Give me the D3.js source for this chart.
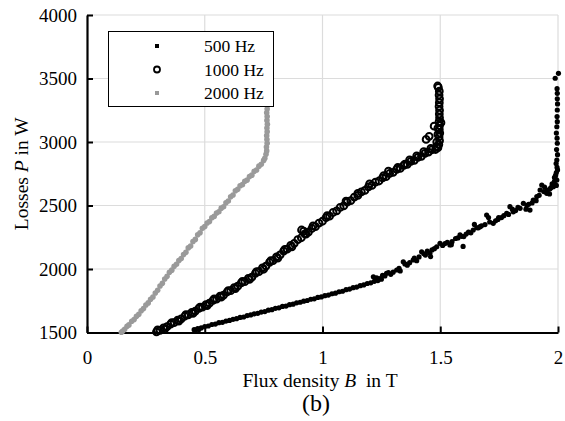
<!DOCTYPE html>
<html>
<head>
<meta charset="utf-8">
<script src="https://cdn.jsdelivr.net/npm/d3@7"></script>
<style>
  body { margin: 0; background: #fff; }
  text { font-family: "Liberation Serif", "Times New Roman", serif; fill: #000; }
</style>
</head>
<body>
<svg id="chart" width="565" height="421"></svg>
<script>
// values: [B in T, P in W]
const seriesNames = ["500 Hz", "1000 Hz", "2000 Hz"]
const xTicks = [0, 0.5, 1, 1.5, 2]
const yTicks = [1500, 2000, 2500, 3000, 3500, 4000]

const pts500 = [
  [0.455,1522],[0.46,1519],[0.47,1530],[0.475,1524],[0.485,1536],[0.5,1547],[0.515,1551],[0.53,1563],
  [0.545,1566],[0.56,1577],[0.575,1580],[0.59,1590],[0.605,1595],[0.62,1604],[0.635,1609],[0.65,1619],
  [0.665,1622],[0.68,1633],[0.695,1638],[0.71,1647],[0.725,1651],[0.74,1661],[0.755,1665],[0.77,1676],
  [0.785,1680],[0.8,1690],[0.815,1694],[0.83,1705],[0.845,1708],[0.86,1719],[0.875,1723],[0.89,1734],
  [0.905,1738],[0.92,1747],[0.935,1752],[0.95,1762],[0.965,1765],[0.98,1776],[0.995,1780],[1.01,1790],
  [1.025,1795],[1.04,1805],[1.055,1810],[1.07,1821],[1.085,1825],[1.1,1837],[1.115,1842],[1.13,1853],
  [1.145,1858],[1.16,1869],[1.175,1875],[1.19,1886],[1.205,1891],[1.22,1903],[1.235,1909],[1.25,1920],
  [1.216,1939],[1.244,1925],[1.265,1945],[1.272,1966],[1.29,1958],[1.315,1992],[1.33,1985],[1.343,2057],
  [1.36,2030],[1.385,2071],[1.4,2065],[1.421,2136],[1.437,2110],[1.456,2124],[1.459,2098],[1.475,2160],
  [1.499,2202],[1.51,2185],[1.541,2189],[1.547,2191],[1.55,2215],[1.565,2240],[1.584,2268],[1.59,2257],
  [1.597,2178],[1.6,2255],[1.62,2290],[1.64,2307],[1.645,2351],[1.655,2325],[1.662,2324],[1.669,2333],
  [1.697,2425],[1.705,2405],[1.71,2370],[1.725,2360],[1.745,2390],[1.748,2405],[1.76,2405],[1.782,2439],
  [1.796,2491],[1.806,2471],[1.81,2450],[1.839,2478],[1.853,2517],[1.864,2471],[1.868,2500],[1.881,2464],
  [1.895,2543],[1.907,2538],[1.91,2570],[1.924,2622],[1.931,2661],[1.943,2645],[1.952,2596],[1.964,2591],
  [1.965,2630],[1.98,2648],[1.985,2690],[1.988,2727],[1.993,2658],[1.99,2740],[1.995,2700],[1.985,2720],
  [1.993,2760],[1.998,2780],[1.996,2800],[1.992,2830],[1.995,2858],[1.998,2900],[1.994,2940],[1.997,2990],
  [1.996,3030],[1.993,3070],[1.995,3120],[1.997,3160],[1.996,3200],[1.997,3252],[1.998,3300],[1.997,3340],
  [1.997,3383],[1.996,3420],[1.988,3502],[2.002,3541],
  [1.23,1930],[1.255,1950],[1.28,1972],[1.3,1975],[1.325,2005],[1.35,2040],[1.37,2050],[1.39,2085],
  [1.41,2095],[1.43,2120],[1.445,2140],[1.465,2150],[1.485,2175],[1.52,2200],[1.53,2210],[1.575,2245],
  [1.61,2275],[1.63,2285],[1.675,2340],[1.69,2350],[1.735,2380],[1.77,2420],[1.79,2430],[1.82,2460],
  [1.83,2485],[1.875,2510],[1.89,2520],[1.92,2580],[1.94,2610],[1.955,2620],[1.97,2640],[1.975,2670]
]

const pts1000 = [
  [0.295,1505],[0.31,1516],[0.325,1536],[0.34,1546],[0.355,1566],[0.37,1577],[0.385,1597],[0.4,1608],
  [0.415,1628],[0.43,1639],[0.445,1659],[0.46,1669],[0.475,1690],[0.49,1700],[0.505,1720],[0.52,1731],
  [0.535,1753],[0.55,1763],[0.565,1786],[0.58,1795],[0.595,1819],[0.61,1829],[0.625,1854],[0.64,1865],
  [0.655,1890],[0.67,1900],[0.685,1926],[0.7,1936],[0.715,1965],[0.73,1979],[0.745,2009],[0.76,2023],
  [0.775,2052],[0.79,2066],[0.805,2096],[0.82,2111],[0.835,2141],[0.85,2156],[0.865,2186],[0.88,2201],
  [0.895,2232],[0.91,2246],[0.911,2307],[0.92,2298],[0.925,2276],[0.94,2290],[0.955,2319],[0.97,2333],
  [0.985,2362],[1.0,2376],[1.015,2404],[1.03,2416],[1.045,2445],[1.06,2457],[1.075,2485],[1.09,2497],
  [1.105,2526],[1.12,2538],[1.135,2566],[1.15,2579],[1.165,2607],[1.18,2619],[1.195,2647],[1.21,2658],
  [1.225,2684],[1.24,2693],[1.255,2718],[1.27,2727],[1.285,2752],[1.3,2761],[1.315,2785],[1.33,2792],
  [1.345,2816],[1.36,2824],[1.375,2848],[1.39,2856],[1.405,2879],[1.42,2887],[1.435,2911],[1.45,2921],
  [1.465,2939],[1.48,2941],[1.49,2955],[1.494,2980],[1.497,3010],[1.44,3020],[1.495,3040],[1.453,3045],
  [1.498,3070],[1.496,3100],[1.474,3125],[1.503,3152],[1.497,3130],[1.495,3160],[1.497,3190],[1.496,3220],
  [1.497,3250],[1.495,3280],[1.496,3310],[1.497,3340],[1.495,3370],[1.496,3400],[1.492,3430],[1.489,3441],
  [0.3,1520],[0.33,1527],[0.36,1578],[0.39,1590],[0.42,1640],[0.45,1650],[0.48,1700],[0.51,1712],
  [0.54,1765],[0.57,1778],[0.6,1830],[0.63,1846],[0.66,1902],[0.69,1918],[0.72,1980],[0.75,1998],
  [0.78,2065],[0.81,2085],[0.84,2155],[0.87,2175],[1.26,2735],[1.35,2825],[1.46,2950],[1.485,2965],
  [1.28,2770],[1.32,2800],[1.4,2890],[1.37,2860],[1.43,2925],[1.2,2670],[1.15,2595],[1.1,2535],
  [1.02,2420],[0.96,2340],[0.93,2275],[1.485,3000],[1.49,3060],[1.49,3110]
]

const pts2000 = [
  [0.146,1502],[0.152,1512],[0.16,1526],[0.17,1549],[0.178,1560],[0.19,1588],[0.2,1602],[0.21,1627],
  [0.22,1643],[0.23,1671],[0.24,1688],[0.25,1716],[0.26,1733],[0.27,1762],[0.28,1780],[0.29,1811],
  [0.3,1832],[0.31,1866],[0.32,1887],[0.33,1921],[0.34,1942],[0.35,1974],[0.36,1991],[0.37,2021],
  [0.38,2037],[0.39,2066],[0.4,2082],[0.41,2114],[0.42,2131],[0.43,2166],[0.44,2181],[0.45,2217],
  [0.46,2233],[0.47,2270],[0.48,2286],[0.49,2320],[0.5,2334],[0.51,2362],[0.52,2374],[0.53,2403],
  [0.54,2414],[0.55,2441],[0.56,2451],[0.57,2479],[0.58,2490],[0.59,2521],[0.6,2535],[0.61,2569],
  [0.62,2583],[0.63,2616],[0.64,2627],[0.65,2655],[0.66,2664],[0.67,2691],[0.68,2700],[0.69,2728],
  [0.7,2739],[0.71,2769],[0.72,2780],[0.73,2810],[0.74,2824],[0.75,2855],[0.755,2872],[0.76,2903],
  [0.763,2930],[0.762,2960],[0.765,2990],[0.764,3020],[0.763,3050],[0.765,3080],[0.764,3110],[0.766,3140],
  [0.764,3170],[0.765,3200],[0.763,3230],[0.765,3260],[0.766,3290],[0.764,3320],[0.765,3350]
]

const svg = d3.select("#chart")
const margin = { top: 15, right: 7, bottom: 88.5, left: 87 }
const W = 565, H = 421
const x = d3.scaleLinear().domain([0, 2]).range([margin.left, W - margin.right])
const y = d3.scaleLinear().domain([1500, 4000]).range([H - margin.bottom, margin.top])

// grid
svg.append("g").selectAll("line").data(xTicks.slice(1)).join("line")
  .attr("x1", d => x(d)).attr("x2", d => x(d))
  .attr("y1", y(1500)).attr("y2", y(4000))
  .attr("stroke", "#dcdcdc").attr("stroke-width", 1.2)
svg.append("g").selectAll("line").data(yTicks.slice(1)).join("line")
  .attr("x1", x(0)).attr("x2", x(2))
  .attr("y1", d => y(d)).attr("y2", d => y(d))
  .attr("stroke", "#dcdcdc").attr("stroke-width", 1.2)

// axes, ticks pointing inward
const xAxis = svg.append("g").attr("transform", `translate(0,${y(1500)})`)
  .call(d3.axisBottom(x).tickValues(xTicks).tickFormat(d3.format("")).tickSizeInner(-6).tickSizeOuter(0).tickPadding(18))
const yAxis = svg.append("g").attr("transform", `translate(${x(0)},0)`)
  .call(d3.axisLeft(y).tickValues(yTicks).tickFormat(d3.format("d")).tickSizeInner(-6).tickSizeOuter(0).tickPadding(10))
for (const g of [xAxis, yAxis]) {
  g.select(".domain").attr("stroke", "#000").attr("stroke-width", 2.2)
  g.selectAll(".tick line").attr("stroke", "#000").attr("stroke-width", 2)
  g.selectAll(".tick text").attr("font-size", 19).attr("font-family", "Liberation Serif, serif").attr("fill", "#000")
}

// data
svg.append("g").selectAll("circle").data(pts500).join("circle")
  .attr("cx", d => x(d[0])).attr("cy", d => y(d[1])).attr("r", 2.6).attr("fill", "#000")
svg.append("g").selectAll("circle").data(pts1000).join("circle")
  .attr("cx", d => x(d[0])).attr("cy", d => y(d[1])).attr("r", 3.4)
  .attr("fill", "none").attr("stroke", "#000").attr("stroke-width", 2)
svg.append("g").selectAll("circle").data(pts2000).join("circle")
  .attr("cx", d => x(d[0])).attr("cy", d => y(d[1])).attr("r", 2.8).attr("fill", "#9a9a9a")

// axis titles
const xt = svg.append("text").attr("x", 320).attr("y", 387).attr("text-anchor", "middle").attr("font-size", 19.5)
xt.append("tspan").text("Flux density ")
xt.append("tspan").attr("font-style", "italic").text("B")
xt.append("tspan").text("\u00a0 in T")
const yt = svg.append("text").attr("transform", `translate(28,${(y(1500) + y(4000)) / 2}) rotate(-90)`)
  .attr("text-anchor", "middle").attr("font-size", 19.5)
yt.append("tspan").text("Losses ")
yt.append("tspan").attr("font-style", "italic").text("P")
yt.append("tspan").text(" in W")
svg.append("text").attr("x", 316).attr("y", 411).attr("text-anchor", "middle").attr("font-size", 24).text("(b)")

// legend
const lg = svg.append("g")
lg.append("rect").attr("x", 108.5).attr("y", 31.5).attr("width", 165).attr("height", 75)
  .attr("fill", "#fff").attr("stroke", "#000").attr("stroke-width", 1)
const rows = lg.selectAll("g.row").data(seriesNames).join("g").attr("class", "row")
  .attr("transform", (d, i) => `translate(0,${46 + i * 23.5})`)
rows.append("text").attr("x", 204).attr("y", 6).attr("font-size", 17.5).text(d => d)
rows.filter((d, i) => i === 0).append("rect").attr("x", 155).attr("y", -2).attr("width", 4).attr("height", 4).attr("fill", "#000")
rows.filter((d, i) => i === 1).append("circle").attr("cx", 157).attr("cy", 0).attr("r", 3)
  .attr("fill", "none").attr("stroke", "#000").attr("stroke-width", 1.8)
rows.filter((d, i) => i === 2).append("rect").attr("x", 155).attr("y", -2).attr("width", 4).attr("height", 4).attr("fill", "#999")
</script>
</body>
</html>
